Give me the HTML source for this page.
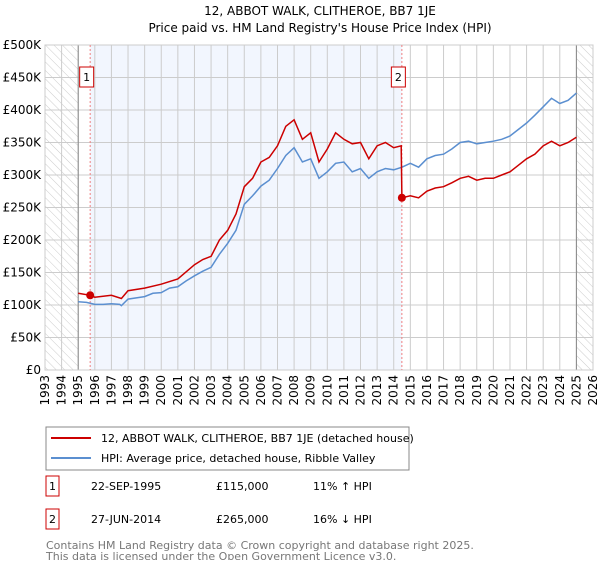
<!DOCTYPE html>
<html><head><meta charset="utf-8"><style>
body{margin:0;background:#fff;font-family:"Liberation Sans","DejaVu Sans",sans-serif;}
svg text{font-family:"DejaVu Sans","Liberation Sans",sans-serif;}
</style></head><body>
<svg id="c" width="600" height="560" xmlns="http://www.w3.org/2000/svg">
<defs><pattern id="hatch" width="6" height="6" patternUnits="userSpaceOnUse" patternTransform="rotate(-45)"><line x1="0" y1="0" x2="0" y2="6" stroke="#ccc" stroke-width="1"/></pattern></defs>
<text x="320" y="15" text-anchor="middle" font-size="12">12, ABBOT WALK, CLITHEROE, BB7 1JE</text>
<text x="320" y="32" text-anchor="middle" font-size="12">Price paid vs. HM Land Registry's House Price Index (HPI)</text>
<g id="plot"></g>
<g>
<rect x="46" y="427" width="363" height="43" fill="#fff" stroke="#888"/>
<line x1="51" y1="438" x2="91" y2="438" stroke="#cc0000" stroke-width="2"/>
<text x="101" y="442" font-size="11">12, ABBOT WALK, CLITHEROE, BB7 1JE (detached house)</text>
<line x1="51" y1="458" x2="91" y2="458" stroke="#5b8fd0" stroke-width="2"/>
<text x="101" y="462" font-size="11">HPI: Average price, detached house, Ribble Valley</text>
</g>
<g font-size="11">
<rect x="46" y="476" width="13" height="20" fill="#fff" stroke="#cc0000"/>
<text x="52.5" y="490" text-anchor="middle">1</text>
<text x="91" y="490">22-SEP-1995</text><text x="216" y="490">£115,000</text><text x="313" y="490">11% ↑ HPI</text>
<rect x="46" y="509" width="13" height="20" fill="#fff" stroke="#cc0000"/>
<text x="52.5" y="523" text-anchor="middle">2</text>
<text x="91" y="523">27-JUN-2014</text><text x="216" y="523">£265,000</text><text x="313" y="523">16% ↓ HPI</text>
</g>
<text x="46" y="549" font-size="11" fill="#777">Contains HM Land Registry data © Crown copyright and database right 2025.</text>
<text x="46" y="560" font-size="11" fill="#777">This data is licensed under the Open Government Licence v3.0.</text>
</svg>
<script>
const hpiYears=[1995,1995.5,1996,1996.5,1997,1997.5,1997.6,1998,1998.5,1999,1999.5,2000,2000.5,2001,2001.5,2002,2002.5,2003,2003.5,2004,2004.5,2005,2005.5,2006,2006.5,2007,2007.5,2008,2008.5,2009,2009.5,2010,2010.5,2011,2011.5,2012,2012.5,2013,2013.5,2014,2014.5,2015,2015.5,2016,2016.5,2017,2017.5,2018,2018.5,2019,2019.5,2020,2020.5,2021,2021.5,2022,2022.5,2023,2023.5,2024,2024.5,2025];
const hpiValues=[105,104,101,101,102,101,99,109,111,113,118,119,126,128,137,145,152,158,178,195,215,255,268,283,292,310,330,342,320,325,295,305,318,320,305,310,295,305,310,308,312,318,312,325,330,332,340,350,352,348,350,352,355,360,370,380,392,405,418,410,415,426];
const priceYears=[1995,1995.72,1996,1997,1997.6,1998,1999,2000,2001,2002,2002.5,2003,2003.5,2004,2004.5,2005,2005.5,2006,2006.5,2007,2007.5,2008,2008.5,2009,2009.5,2010,2010.5,2011,2011.5,2012,2012.5,2013,2013.5,2014,2014.45,2014.49,2015,2015.5,2016,2016.5,2017,2017.5,2018,2018.5,2019,2019.5,2020,2020.5,2021,2021.5,2022,2022.5,2023,2023.5,2024,2024.5,2025];
const priceValues=[118,115,112,115,110,122,126,132,140,162,170,175,200,215,240,282,295,320,327,345,375,385,355,365,320,340,365,355,348,350,325,345,350,342,345,265,268,265,275,280,282,288,295,298,292,295,295,300,305,315,325,332,345,352,345,350,358];
const saleYears=[1995.72,2014.49];
const saleValues=[115,265];
const yTicks=[0,50,100,150,200,250,300,350,400,450,500];
const yTickLabels=["£0","£50K","£100K","£150K","£200K","£250K","£300K","£350K","£400K","£450K","£500K"];
const xTicks=[1993,1994,1995,1996,1997,1998,1999,2000,2001,2002,2003,2004,2005,2006,2007,2008,2009,2010,2011,2012,2013,2014,2015,2016,2017,2018,2019,2020,2021,2022,2023,2024,2025,2026];
const L=45,R=593,T=45,B=370;
const x=v=>L+(v-1993)/(2026-1993)*(R-L);
const y=v=>B-v/500*(B-T);
const NS="http://www.w3.org/2000/svg";
const g=document.getElementById('plot');
function mk(t,a,p){const e=document.createElementNS(NS,t);for(const k in a)e.setAttribute(k,a[k]);(p||g).appendChild(e);return e;}
let e;
e=mk('rect',{x:x(saleYears[0]),y:T,width:x(saleYears[1])-x(saleYears[0]),height:B-T,fill:'#eef3fd',opacity:0.75});


yTicks.forEach((v,i)=>{
 mk('line',{x1:L,x2:R,y1:y(v),y2:y(v),stroke:'#ccc'});
 e=mk('text',{x:L-4,y:y(v)+4,'text-anchor':'end','font-size':12});e.textContent=yTickLabels[i];
 
 
});
xTicks.forEach(v=>{
 mk('line',{x1:x(v),x2:x(v),y1:T,y2:B,stroke:'#ccc'});
 e=mk('text',{x:0,y:0,'text-anchor':'end','font-size':12,transform:`translate(${x(v)+4},${B+5}) rotate(-90)`});e.textContent=v;
 
 
});
e=mk('rect',{x:L,y:T,width:x(1995)-L,height:B-T,fill:'url(#hatch)'});


e=mk('rect',{x:x(2025),y:T,width:R-x(2025),height:B-T,fill:'url(#hatch)'});


mk('line',{x1:x(1995),x2:x(1995),y1:T,y2:B,stroke:'#888'});
mk('line',{x1:x(2025),x2:x(2025),y1:T,y2:B,stroke:'#888'});
mk('rect',{x:L,y:T,width:R-L,height:B-T,fill:'none',stroke:'#ccc'});
saleYears.forEach((s,i)=>{
 mk('line',{x1:x(s),x2:x(s),y1:T,y2:B,stroke:'#f08080','stroke-dasharray':'2,2'});
 e=mk('rect',{x:x(s)-10.5,y:67,width:14,height:20,fill:'#fff',stroke:'#cc0000'});
 
 
 e=mk('text',{x:x(s)-3.5,y:81,'text-anchor':'middle','font-size':11});e.textContent=i+1;
});
e=mk('path',{d:hpiYears.map((v,i)=>(i?'L':'M')+x(v).toFixed(1)+','+y(hpiValues[i]).toFixed(1)).join(''),fill:'none',stroke:'#5b8fd0','stroke-width':1.5});


e=mk('path',{d:priceYears.map((v,i)=>(i?'L':'M')+x(v).toFixed(1)+','+y(priceValues[i]).toFixed(1)).join(''),fill:'none',stroke:'#cc0000','stroke-width':1.5});


saleYears.forEach((s,i)=>{
 e=mk('circle',{cx:x(s),cy:y(saleValues[i]),r:4,fill:'#cc0000'});
 
 
});
</script>
</body></html>
